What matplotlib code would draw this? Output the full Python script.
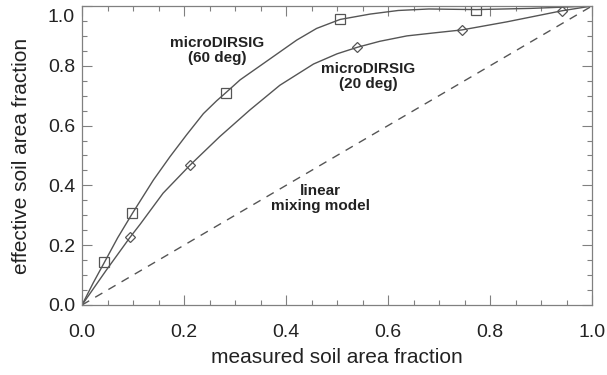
import matplotlib.pyplot as plt
from matplotlib.ticker import MultipleLocator
from matplotlib.transforms import ScaledTranslation

plt.rcParams["font.family"] = ["Liberation Sans", "DejaVu Sans"]

# marker positions (measured vs effective soil fraction)
deg60_x = [0.044, 0.099, 0.282, 0.506, 0.773]
deg60_y = [0.143, 0.307, 0.710, 0.957, 0.985]
deg20_x = [0.094, 0.212, 0.540, 0.745, 0.941]
deg20_y = [0.226, 0.468, 0.862, 0.920, 0.984]

# fitted curves traced along the model output
curve60_x = [0.0, 0.022, 0.044, 0.070, 0.099, 0.140, 0.1725, 0.205, 0.238, 0.264,
             0.282, 0.310, 0.356, 0.421, 0.460, 0.506, 0.565, 0.620, 0.680,
             0.773, 0.880, 1.0]
curve60_y = [0.0, 0.074, 0.143, 0.225, 0.307, 0.418, 0.496, 0.569, 0.640, 0.683,
             0.710, 0.753, 0.808, 0.886, 0.925, 0.955, 0.973, 0.985, 0.990,
             0.988, 0.992, 1.0]
curve20_x = [0.0, 0.047, 0.094, 0.114, 0.159, 0.212, 0.270, 0.329, 0.388, 0.454,
             0.500, 0.540, 0.584, 0.637, 0.690, 0.745, 0.833, 0.941, 1.0]
curve20_y = [0.0, 0.115, 0.226, 0.270, 0.374, 0.468, 0.563, 0.652, 0.735, 0.806,
             0.840, 0.862, 0.882, 0.900, 0.910, 0.920, 0.947, 0.984, 1.0]

linear_x = [0.0, 1.0]
linear_y = [0.0, 1.0]

line_col = "#555555"
frame_col = "#808080"

fig = plt.figure(figsize=(6.07, 3.75), dpi=100)
ax = fig.add_axes([0.1351, 0.1867, 0.8402, 0.7973])

ax.plot(curve60_x, curve60_y, color=line_col, lw=1.0)
ax.plot(curve20_x, curve20_y, color=line_col, lw=1.0)
ax.plot(deg60_x, deg60_y, ls="none", marker="s", ms=7, mfc="none",
        mec=line_col, mew=0.9)
ax.plot(deg20_x, deg20_y, ls="none", marker="D", ms=5, mfc="none",
        mec=line_col, mew=0.9)
ax.plot(linear_x, linear_y, color=line_col, lw=1.0, ls=(0, (6, 5)))

text_kw = dict(ha="center", va="center", fontsize=11, fontweight="bold",
               color="#222222", linespacing=1.1)
ax.text(0.265, 0.85, "microDIRSIG\n(60 deg)", **text_kw)
ax.text(0.561, 0.765, "microDIRSIG\n(20 deg)", **text_kw)
ax.text(0.467, 0.355, "linear\nmixing model", **text_kw)

ax.set_xlim(0, 1)
ax.set_ylim(0, 1)
ax.xaxis.set_major_locator(MultipleLocator(0.2))
ax.xaxis.set_minor_locator(MultipleLocator(0.05))
ax.yaxis.set_major_locator(MultipleLocator(0.2))
ax.yaxis.set_minor_locator(MultipleLocator(0.05))
ax.xaxis.set_major_formatter(lambda v, p: f"{v:.1f}")
ax.yaxis.set_major_formatter(lambda v, p: f"{v:.1f}")

ax.tick_params(which="both", direction="in", top=True, right=True,
               color=frame_col, width=0.8, labelsize=14, labelcolor="#222222")
ax.tick_params(which="major", length=7)
ax.tick_params(which="minor", length=3.5)
ax.tick_params(axis="x", pad=14)
ax.tick_params(axis="y", pad=5)
for s in ax.spines.values():
    s.set_color(frame_col)
    s.set_linewidth(0.9)

ax.set_xlabel("measured soil area fraction", fontsize=15, color="#222222", labelpad=5)
ax.set_ylabel("effective soil area fraction", fontsize=15, color="#222222", labelpad=12)

# nudge the top y label down so it sits inside the figure
fig.canvas.draw()
for tick in ax.yaxis.get_major_ticks():
    if abs(tick.get_loc() - 1.0) < 1e-6:
        lbl = tick.label1
        lbl.set_transform(lbl.get_transform() + ScaledTranslation(0, -10 / 100, fig.dpi_scale_trans))

fig.savefig("out.png", dpi=100)
